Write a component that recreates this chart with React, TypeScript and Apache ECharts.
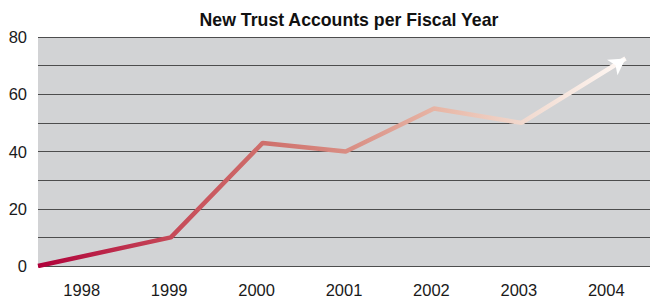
import React, { useEffect, useRef } from "react";
import * as echarts from "echarts";

const title = "New Trust Accounts per Fiscal Year";
const years = ["1998", "1999", "2000", "2001", "2002", "2003", "2004"];
// horizontal position of each point, in category bands from the left edge
const pointPositions = [0, 1.52, 2.57, 3.52, 4.53, 5.53, 6.72];
const accounts = [0, 10, 43, 40, 55, 50, 72.5];
const yTicks = [0, 20, 40, 60, 80];

export default function App() {
  const ref = useRef<HTMLDivElement>(null);
  useEffect(() => {
    if (!ref.current) return;
    const chart = echarts.init(ref.current, null, { renderer: "svg" });
    const data = accounts.map((v, i) => {
      const item: any = { value: [pointPositions[i], v] };
      if (i === accounts.length - 1) {
        item.symbol = "arrow";
        item.symbolSize = [14, 16];
        item.symbolRotate = -56;
        item.itemStyle = { color: "#ffffff" };
      }
      return item;
    });
    chart.setOption({
      animation: false,
      title: {
        text: title,
        left: 344,
        textAlign: "center",
        top: 6,
        textStyle: {
          fontFamily: "Liberation Sans",
          fontWeight: "bold",
          fontSize: 17.7,
          color: "#111",
        },
      },
      grid: {
        left: 38,
        right: 0,
        top: 37,
        bottom: 32,
        show: true,
        backgroundColor: "#d2d3d5",
        borderWidth: 0,
      },
      xAxis: {
        type: "value",
        min: 0,
        max: years.length,
        interval: 0.5,
        axisLine: { show: false },
        axisTick: { show: false },
        splitLine: { show: false },
        axisLabel: {
          margin: 15,
          fontFamily: "Liberation Sans",
          fontSize: 16.5,
          color: "#1a1a1a",
          showMinLabel: true,
          showMaxLabel: true,
          formatter: (v: number) => {
            const idx = Math.floor(v);
            if (Math.abs(v - idx - 0.5) < 1e-6 && idx < years.length) return years[idx];
            return "";
          },
        },
      },
      yAxis: {
        type: "value",
        min: 0,
        max: 80,
        interval: 10,
        axisLine: { show: false },
        axisTick: { show: false },
        splitLine: { show: true, lineStyle: { color: "#4d4d4d", width: 1 } },
        axisLabel: {
          margin: 11,
          fontFamily: "Liberation Sans",
          fontSize: 16.5,
          color: "#1a1a1a",
          formatter: (v: number) => (yTicks.indexOf(v) >= 0 ? String(v) : ""),
        },
      },
      series: [
        {
          type: "line",
          data,
          symbol: "none",
          showSymbol: true,
          lineStyle: {
            width: 4.5,
            color: new echarts.graphic.LinearGradient(0, 0, 1, 0, [
              { offset: 0, color: "#b0003a" },
              { offset: 0.23, color: "#c64a58" },
              { offset: 0.39, color: "#cf706c" },
              { offset: 0.53, color: "#d98e84" },
              { offset: 0.69, color: "#e8b8a8" },
              { offset: 0.84, color: "#f2dcd2" },
              { offset: 1, color: "#fff8f4" },
            ]),
          },
        },
      ],
    });
    return () => chart.dispose();
  }, []);
  return <div ref={ref} style={{ width: 653, height: 298, position: "absolute", left: 0, top: 0 }} />;
}
